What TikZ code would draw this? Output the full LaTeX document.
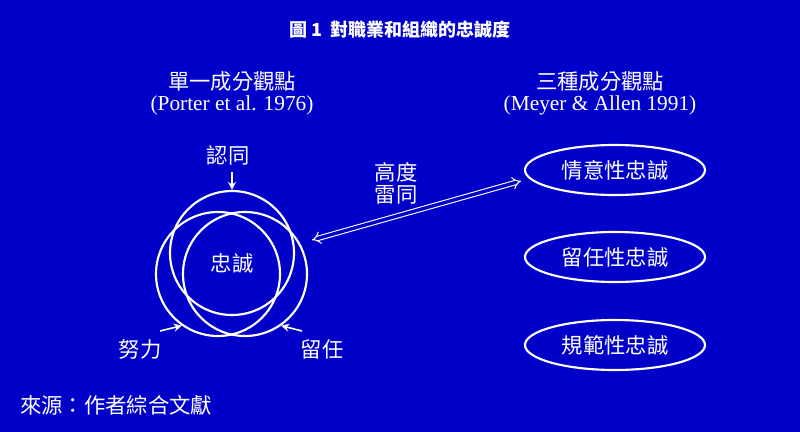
\documentclass[tikz,border=0pt]{standalone}
\usepackage{fontspec}
\setmainfont{Liberation Serif}
\newfontfamily\cjk{Noto Sans CJK TC}
\usetikzlibrary{arrows.meta, shapes.geometric}
\definecolor{bgblue}{RGB}{0,0,200}
\tikzset{
  lbl/.style={text=white, font=\cjk\fontsize{16}{18}\selectfont, inner sep=0pt},
  ref/.style={text=white, font=\fontsize{16}{18}\selectfont, inner sep=0pt},
  ring/.style={draw=white, line width=1.6pt, circle, minimum size=124*0.75pt, inner sep=0pt},
  kind/.style={draw=white, line width=1.6pt, ellipse, minimum width=180*0.75pt, minimum height=50*0.75pt, lbl},
  pin/.style={white, line width=1.2pt, -{Stealth[length=6pt,width=6pt]}}
}
\begin{document}
\begin{tikzpicture}[x=0.75pt, y=-0.75pt]
  \fill[bgblue] (0,0) rectangle (800,432);
  \useasboundingbox (0,0) rectangle (800,432);
  \node[text=white, font=\cjk\bfseries\fontsize{13.5}{15}\selectfont] (title) at (400,30) {圖 1\ \ 對職業和組織的忠誠度};
  % left side
  \node[lbl] (single) at (232,81) {單一成分觀點};
  \node[ref] (porter) at (232,105) {(Porter et al. 1976)};
  \node[ring] (c1) at (232,253) {};
  \node[ring] (c2) at (218,274) {};
  \node[ring] (c3) at (245,274) {};
  \node[lbl] (loyal) at (232,263) {忠誠};
  \node[lbl] (ident) at (228,155) {認同};
  \node[lbl] (effort) at (140,349) {努力};
  \node[lbl] (stay) at (322,349) {留任};
  \coordinate (ia) at (232,172);
  \coordinate (ea) at (160,331);
  \coordinate (sa) at (302,331);
  \draw[pin] (ia) -- (c1.north);
  \draw[pin] (ea) -- (c2.-125);
  \draw[pin] (sa) -- (c3.-55);
  % right side
  \node[lbl] (three) at (600,81) {三種成分觀點};
  \node[ref] (meyer) at (600,105) {(Meyer \& Allen 1991)};
  \node[kind] (k1) at (615,170) {情意性忠誠};
  \node[kind] (k2) at (615,257) {留任性忠誠};
  \node[kind] (k3) at (615,345) {規範性忠誠};
  % link
  \node[lbl] (high) at (396,172) {高度};
  \node[lbl] (same) at (396,195) {雷同};
  \coordinate (la) at (312,240);
  \coordinate (lb) at (521,181);
  \draw[white, line width=0.8pt, double=bgblue, double distance=2.5pt, {Implies}-{Implies}] (la) -- (lb);
  \node[lbl, anchor=west] (src) at (20,405) {來源：作者綜合文獻};
\end{tikzpicture}
\end{document}
